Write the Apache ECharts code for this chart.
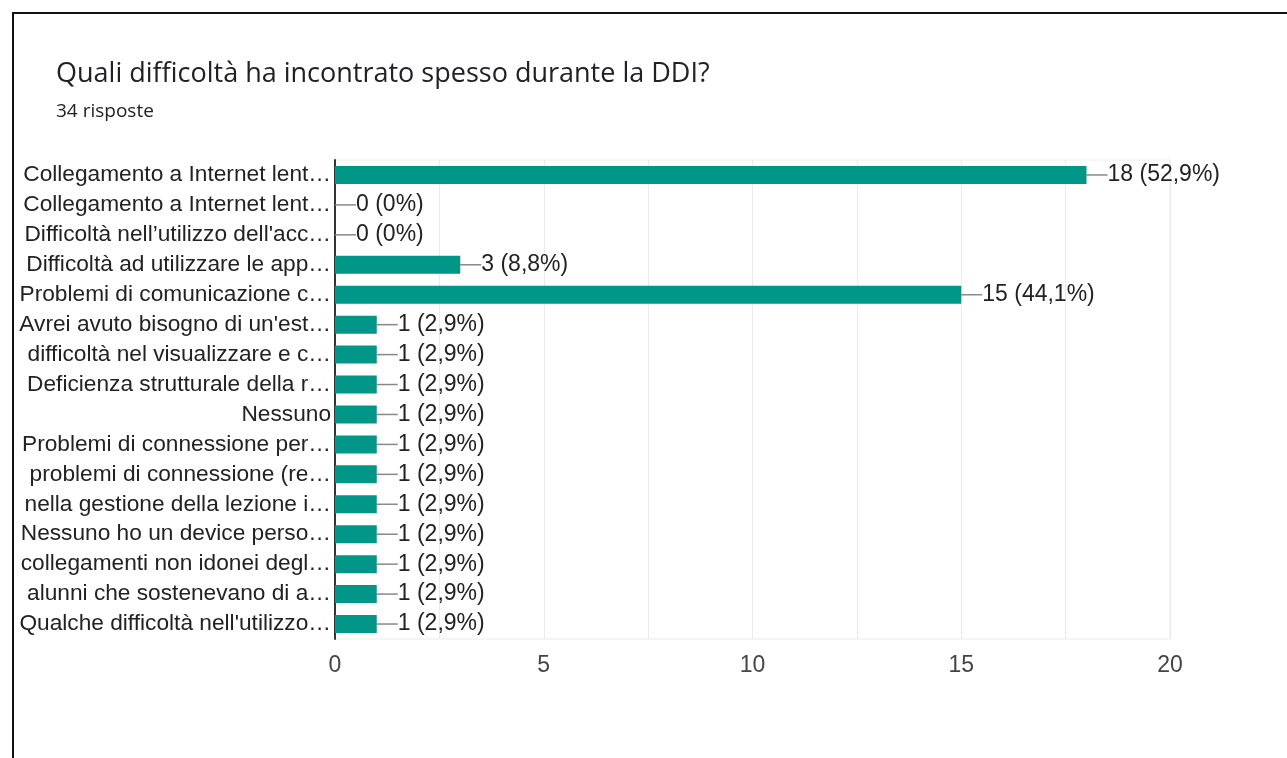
<!DOCTYPE html>
<html>
<head>
<meta charset="utf-8">
<script src="https://cdn.jsdelivr.net/npm/echarts@6/dist/echarts.min.js"></script>
<style>
html,body{margin:0;padding:0;background:#fff;}
#frame{position:absolute;left:12px;top:12px;width:1400px;height:900px;border-top:2px solid #111;border-left:2px solid #111;box-sizing:border-box;}
#chart{position:absolute;left:0;top:0;width:1287px;height:758px;}
</style>
</head>
<body>
<div id="frame"></div>
<div id="chart"></div>
<script>
const titleText = "Quali difficoltà ha incontrato spesso durante la DDI?";
const subtitleText = "34 risposte";
const categories = [
  "Collegamento a Internet lent…",
  "Collegamento a Internet lent…",
  "Difficoltà nell’utilizzo dell'acc…",
  "Difficoltà ad utilizzare le app…",
  "Problemi di comunicazione c…",
  "Avrei avuto bisogno di un'est…",
  "difficoltà nel visualizzare e c…",
  "Deficienza strutturale della r…",
  "Nessuno",
  "Problemi di connessione per…",
  "problemi di connessione (re…",
  "nella gestione della lezione i…",
  "Nessuno ho un device perso…",
  "collegamenti non idonei degl…",
  "alunni che sostenevano di a…",
  "Qualche difficoltà nell'utilizzo…"
];
const counts = [18, 0, 0, 3, 15, 1, 1, 1, 1, 1, 1, 1, 1, 1, 1, 1];
const percents = ["52,9%", "0%", "0%", "8,8%", "44,1%", "2,9%", "2,9%", "2,9%", "2,9%", "2,9%", "2,9%", "2,9%", "2,9%", "2,9%", "2,9%", "2,9%"];
const xTicks = [0, 5, 10, 15, 20];

const chart = echarts.init(document.getElementById('chart'));
chart.setOption({
  animation: false,
  title: [
    {text: titleText, left: 51, top: 56, textStyle: {fontFamily: 'Open Sans', fontSize: 27, fontWeight: 'normal', color: '#202124'}},
    {text: subtitleText, left: 51, top: 97, textStyle: {fontFamily: 'Open Sans', fontSize: 19, fontWeight: 'normal', color: '#202124'}}
  ],
  grid: {left: 335, right: 117, top: 160, bottom: 119, show: true, borderColor: '#ebebeb', borderWidth: 1, containLabel: false},
  xAxis: {
    type: 'value', min: 0, max: 20, interval: 2.5,
    axisLine: {show: false}, axisTick: {show: false},
    splitLine: {show: true, lineStyle: {color: '#ebebeb', width: 1}},
    axisLabel: {
      color: '#444', fontFamily: 'Liberation Sans', fontSize: 23, margin: 15,
      formatter: v => xTicks.indexOf(v) >= 0 ? String(v) : ''
    }
  },
  yAxis: {
    type: 'category', data: categories, inverse: true,
    axisLine: {show: true, lineStyle: {color: '#333', width: 2}},
    axisTick: {show: false},
    axisLabel: {color: '#222', fontFamily: 'Liberation Sans', fontSize: 22.7, margin: 4}
  },
  series: [{
    type: 'bar',
    data: counts,
    barCategoryGap: '40%',
    itemStyle: {color: '#009688'},
    label: {
      show: true, position: 'right', distance: 1,
      color: '#222', fontFamily: 'Liberation Sans', fontSize: 23,
      formatter: p => counts[p.dataIndex] + ' (' + percents[p.dataIndex] + ')'
    },
    labelLayout: {dx: 20},
    labelLine: {show: true, lineStyle: {color: '#888', width: 1.5}}
  }]
});
</script>
</body>
</html>
